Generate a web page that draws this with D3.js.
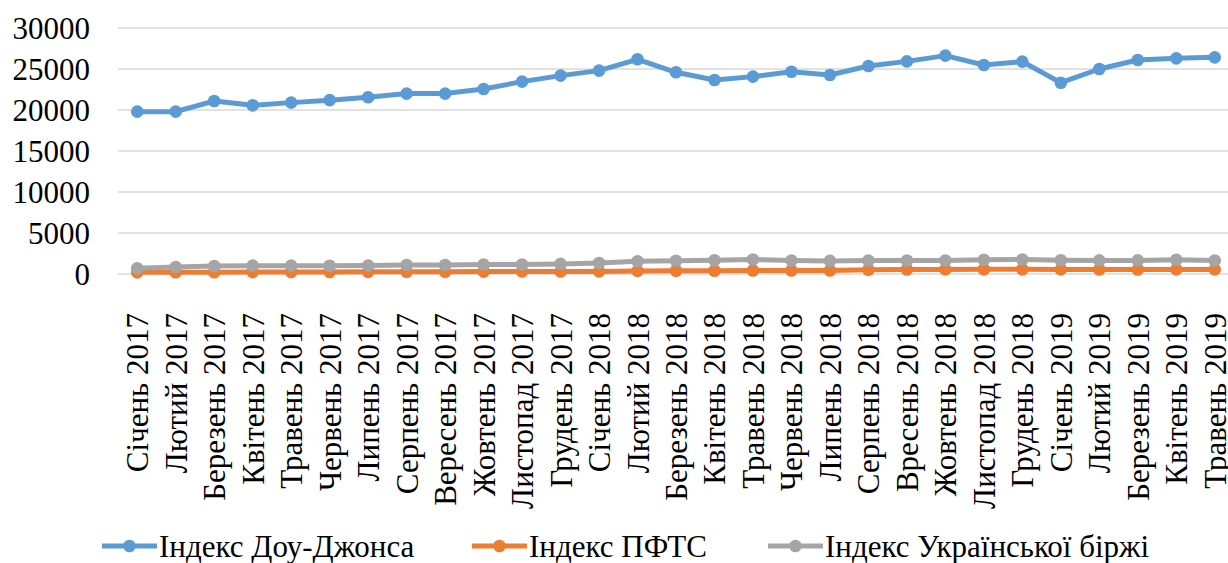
<!DOCTYPE html>
<html>
<head>
<meta charset="utf-8">
<script src="https://cdn.jsdelivr.net/npm/d3@7"></script>
<style>
  body { margin: 0; background: #fff; }
  #wrap { position: relative; width: 1228px; height: 563px; overflow: hidden; }
  #wrap svg { position: absolute; left: 0; top: 0; }
  .xlab {
    position: absolute;
    white-space: nowrap;
    font-family: "Liberation Serif", "Times New Roman", serif;
    font-size: 31px;
    line-height: 1;
    color: #000;
    transform-origin: 0 0;
    transform: rotate(-90deg) translate(-100%, -50%);
  }
</style>
</head>
<body>
<div id="wrap"><svg id="plot" width="1228" height="563"></svg></div>
<script>
// months on the x axis
var months = ["Січень 2017", "Лютий 2017", "Березень 2017", "Квітень 2017", "Травень 2017",
    "Червень 2017", "Липень 2017", "Серпень 2017", "Вересень 2017", "Жовтень 2017",
    "Листопад 2017", "Грудень 2017", "Січень 2018", "Лютий 2018", "Березень 2018",
    "Квітень 2018", "Травень 2018", "Червень 2018", "Липень 2018", "Серпень 2018",
    "Вресень 2018", "Жовтень 2018", "Листопад 2018", "Грудень 2018", "Січень 2019",
    "Лютий 2019", "Березень 2019", "Квітень 2019", "Травень 2019"];

var dowJones = [19800, 19800, 21100, 20570, 20900, 21200, 21550, 22000, 22000, 22560,
    23460, 24190, 24800, 26180, 24600, 23660, 24070, 24670, 24270, 25370,
    25930, 26630, 25490, 25900, 23330, 25000, 26100, 26300, 26420];

var pfts = [200, 210, 220, 230, 240, 250, 260, 270, 280, 290,
    300, 310, 320, 380, 400, 400, 420, 420, 430, 520,
    540, 560, 570, 570, 560, 550, 550, 560, 560];

var ux = [700, 860, 980, 1020, 1020, 1000, 1040, 1100, 1100, 1150,
    1160, 1230, 1350, 1560, 1620, 1680, 1760, 1640, 1600, 1640,
    1640, 1640, 1740, 1760, 1680, 1660, 1660, 1740, 1640];

var yTicks = [0, 5000, 10000, 15000, 20000, 25000, 30000];

var seriesNames = ["Індекс Доу-Джонса", "Індекс ПФТС", "Індекс Української біржі"];
var seriesColors = ["#5b9bd5", "#ed7d31", "#a5a5a5"];
var seriesValues = [dowJones, pfts, ux];

var textStyle = "font-family: 'Liberation Serif', 'Times New Roman', serif !important; font-size: 31px !important;";

var svg = d3.select("#plot");

var xScale = d3.scaleBand().domain(months).range([118, 1234]);
var yScale = d3.scaleLinear().domain([0, 30000]).range([274, 28]);

function cx(d, i) { return xScale(months[i]) + xScale.bandwidth() / 2; }

// gridlines
svg.selectAll("line.grid")
    .data(yTicks)
    .enter()
        .append("line")
        .attr("class", "grid")
        .attr("x1", 118)
        .attr("x2", 1228)
        .attr("y1", function (d) { return yScale(d); })
        .attr("y2", function (d) { return yScale(d); })
        .attr("stroke", "#d9d9d9")
        .attr("stroke-width", 1.3);

// y axis labels
svg.selectAll("text.ylab")
    .data(yTicks)
    .enter()
        .append("text")
        .attr("class", "ylab")
        .attr("x", 90)
        .attr("y", function (d) { return yScale(d); })
        .attr("dy", "0.34em")
        .attr("text-anchor", "end")
        .attr("style", textStyle)
        .text(function (d) { return d; });

// x axis labels (rotated html labels, placed with the band scale)
d3.select("#wrap").selectAll("div.xlab")
    .data(months)
    .enter()
        .append("div")
        .attr("class", "xlab")
        .style("left", function (d) { return (xScale(d) + xScale.bandwidth() / 2) + "px"; })
        .style("top", "313px")
        .text(function (d) { return d; });

// lines and markers
var line = d3.line()
    .x(cx)
    .y(function (d) { return yScale(d); });

seriesValues.forEach(function (values, k) {
    svg.append("path")
        .datum(values)
        .attr("d", line)
        .attr("fill", "none")
        .attr("stroke", seriesColors[k])
        .attr("stroke-width", 5)
        .attr("stroke-linejoin", "round");
    svg.selectAll("circle.s" + k)
        .data(values)
        .enter()
            .append("circle")
            .attr("class", "s" + k)
            .attr("cx", cx)
            .attr("cy", function (d) { return yScale(d); })
            .attr("r", 6.3)
            .attr("fill", seriesColors[k]);
});

// legend
var legendX = [102, 472, 768];
seriesNames.forEach(function (name, i) {
    svg.append("line")
        .attr("x1", legendX[i]).attr("x2", legendX[i] + 55)
        .attr("y1", 546).attr("y2", 546)
        .attr("stroke", seriesColors[i])
        .attr("stroke-width", 5);
    svg.append("circle")
        .attr("cx", legendX[i] + 27.5)
        .attr("cy", 546)
        .attr("r", 6.3)
        .attr("fill", seriesColors[i]);
    svg.append("text")
        .attr("x", legendX[i] + 57)
        .attr("y", 546)
        .attr("dy", "0.34em")
        .attr("style", textStyle)
        .text(name);
});
</script>
</body>
</html>
